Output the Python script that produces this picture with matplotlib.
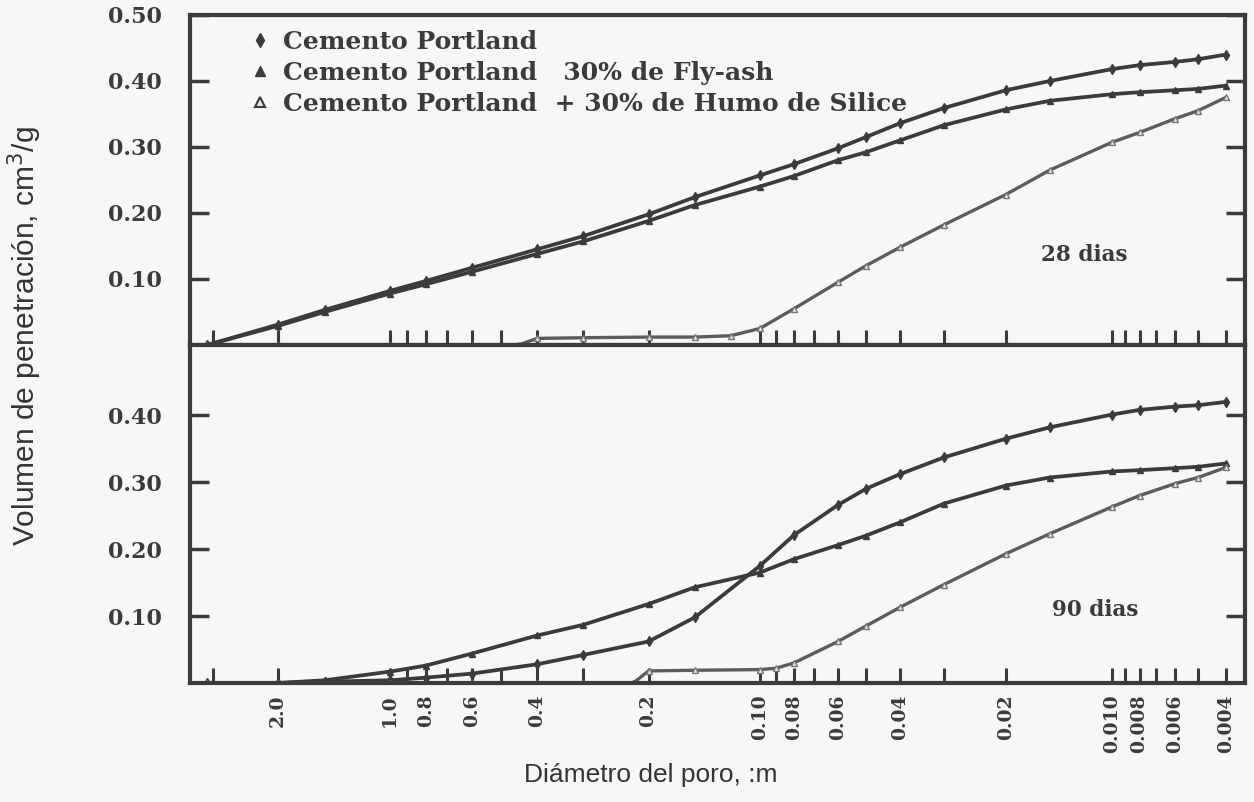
import matplotlib
matplotlib.use("Agg")
import matplotlib.pyplot as plt
from matplotlib.lines import Line2D
from matplotlib.ticker import FixedLocator, FixedFormatter, NullFormatter
import numpy as np

# pore diameter (um) where the curves were sampled
diam = [3.1, 2.0, 1.5, 1.0, 0.8, 0.6, 0.4, 0.3, 0.2, 0.15, 0.1, 0.08, 0.06,
        0.05, 0.04, 0.03, 0.02, 0.015, 0.01, 0.008, 0.006, 0.005, 0.004]

# 28 days
portland_28 = [0.0, 0.031, 0.053, 0.082, 0.097, 0.117, 0.145, 0.165, 0.198, 0.224,
               0.257, 0.274, 0.298, 0.315, 0.336, 0.359, 0.386, 0.400, 0.418,
               0.424, 0.429, 0.433, 0.440]
flyash_28 = [0.0, 0.029, 0.050, 0.078, 0.092, 0.111, 0.138, 0.157, 0.188, 0.212,
             0.240, 0.256, 0.280, 0.292, 0.310, 0.333, 0.357, 0.370, 0.380,
             0.383, 0.386, 0.388, 0.393]
diam_sf = [3.1, 2.0, 1.0, 0.6, 0.45, 0.4, 0.3, 0.2, 0.15, 0.12, 0.1, 0.08, 0.06,
           0.05, 0.04, 0.03, 0.02, 0.015, 0.01, 0.008, 0.006, 0.005, 0.004]
silica_28 = [0.0, 0.0, 0.0, 0.0, 0.0, 0.010, 0.011, 0.012, 0.012, 0.014,
             0.025, 0.055, 0.095, 0.120, 0.148, 0.182, 0.228, 0.265, 0.307,
             0.322, 0.343, 0.355, 0.375]

# 90 days
portland_90 = [0.0, 0.0, 0.002, 0.004, 0.008, 0.014, 0.028, 0.042, 0.062, 0.098,
               0.175, 0.221, 0.266, 0.290, 0.312, 0.337, 0.365, 0.382, 0.401,
               0.408, 0.413, 0.415, 0.420]
flyash_90 = [0.0, 0.0, 0.004, 0.017, 0.026, 0.044, 0.071, 0.087, 0.118, 0.143,
             0.165, 0.185, 0.206, 0.220, 0.240, 0.268, 0.295, 0.307, 0.316,
             0.318, 0.321, 0.323, 0.328]
diam_sf90 = [3.1, 2.0, 1.0, 0.6, 0.4, 0.3, 0.22, 0.2, 0.15, 0.1, 0.09, 0.08, 0.06,
             0.05, 0.04, 0.03, 0.02, 0.015, 0.01, 0.008, 0.006, 0.005, 0.004]
silica_90 = [0.0, 0.0, 0.0, 0.0, 0.0, 0.0, 0.0, 0.018, 0.019, 0.020, 0.022,
             0.030, 0.062, 0.085, 0.113, 0.147, 0.193, 0.223, 0.263, 0.280,
             0.298, 0.307, 0.322]

xtick_vals = [2.0, 1.0, 0.8, 0.6, 0.4, 0.2, 0.1, 0.08, 0.06, 0.04, 0.02,
              0.01, 0.008, 0.006, 0.004]
xtick_text = ["2.0", "1.0", "0.8", "0.6", "0.4", "0.2", "0.10", "0.08", "0.06",
              "0.04", "0.02", "0.010", "0.008", "0.006", "0.004"]
xminor_vals = [3.0, 0.9, 0.7, 0.5, 0.3, 0.09, 0.07, 0.05, 0.03, 0.009, 0.007, 0.005]

legend_text = ["Cemento Portland",
               "Cemento Portland   30% de Fly-ash",
               "Cemento Portland  + 30% de Humo de Silice"]

# the printed diameter axis is only roughly logarithmic: piecewise log scale
knot_d = np.log10([4.0, 2.0, 1.0, 0.1, 0.01, 0.004, 0.003])
knot_p = np.array([166.0, 278.0, 390.0, 760.0, 1112.0, 1226.0, 1262.0])


def fwd(x):
    # increasing with diameter, so the axis is flipped with set_xlim
    x = np.clip(np.asarray(x, dtype=float), 1e-6, None)
    return -np.interp(-np.log10(x), -knot_d, knot_p)


def inv(p):
    return 10.0 ** (-np.interp(-np.asarray(p, dtype=float), knot_p, -knot_d))


INK = "#3b3b3b"
SERIF = ["DejaVu Serif"]
SANS = ["Liberation Sans", "DejaVu Sans"]
BG = "#f7f7f7"

fig = plt.figure(figsize=(12.54, 8.02), dpi=100, facecolor=BG)
gs = fig.add_gridspec(2, 1, left=0.1515, right=0.9928, bottom=0.1484, top=0.9813,
                      hspace=0.0, height_ratios=[330, 338])
ax1 = fig.add_subplot(gs[0])
ax2 = fig.add_subplot(gs[1], sharex=ax1)

panels = [(ax1, portland_28, flyash_28, silica_28, 0.50, "28 dias", 0.848, 0.273),
          (ax2, portland_90, flyash_90, silica_90, 0.505, "90 dias", 0.858, 0.216)]

for ax, p, f, s, ytop, tag, tx, ty in panels:
    ax.set_facecolor(BG)
    ax.set_xscale("function", functions=(fwd, inv))
    ax.plot(diam, p, color=INK, lw=2.7, marker="d", ms=5, mfc=INK, mec=INK)
    ax.plot(diam, f, color=INK, lw=2.7, marker="^", ms=4.5, mfc=INK, mec=INK)
    sx = diam_sf if ax is ax1 else diam_sf90
    ax.plot(sx, s, color="#5c5c5c", lw=2.4, marker="^", ms=4.5, mfc="#e8e8e8",
            mec="#777777", mew=1.0)
    ax.set_ylim(0, ytop)
    yt = [0.1, 0.2, 0.3, 0.4, 0.5] if ax is ax1 else [0.1, 0.2, 0.3, 0.4]
    ax.set_yticks(yt)
    ax.set_yticklabels(["%.2f" % v for v in yt])
    ax.tick_params(axis="y", which="both", direction="in", length=14, width=2.5,
                   left=True, right=True, colors=INK, labelsize=16, pad=20)
    ax.xaxis.set_major_locator(FixedLocator(xtick_vals))
    ax.xaxis.set_minor_locator(FixedLocator(xminor_vals))
    ax.xaxis.set_minor_formatter(NullFormatter())
    ax.tick_params(axis="x", which="both", direction="in", length=11, width=2.2,
                   top=False, bottom=True, colors=INK)
    for sp in ax.spines.values():
        sp.set_linewidth(3)
        sp.set_color(INK)
    for lab in ax.get_yticklabels():
        lab.set_family(SERIF)
        lab.set_fontweight("bold")
    ax.text(tx, ty, tag, transform=ax.transAxes, ha="center", va="center",
            fontsize=15.5, fontweight="bold", family=SERIF, color=INK)

ax1.set_xlim(3.45, 0.00343)
ax1.tick_params(axis="x", labelbottom=False)
ax2.xaxis.set_major_formatter(FixedFormatter(xtick_text))
ax2.tick_params(axis="x", labelbottom=True, labelsize=13.5, pad=8)
for lab in ax2.get_xticklabels():
    lab.set_rotation(90)
    lab.set_family(SERIF)
    lab.set_fontweight("bold")

handles = [Line2D([], [], ls="none", marker="d", ms=7, color=INK),
           Line2D([], [], ls="none", marker="^", ms=7, color=INK),
           Line2D([], [], ls="none", marker="^", ms=7, mfc="#e8e8e8", mec=INK, mew=1.5)]
ax1.legend(handles, legend_text, loc="upper left", bbox_to_anchor=(0.038, 1.015),
           frameon=False, handlelength=0.8, handletextpad=0.5, labelspacing=0.28,
           borderaxespad=0.4,
           prop={"family": SERIF, "weight": "bold", "size": 18})
for t in ax1.get_legend().get_texts():
    t.set_color(INK)

fig.text(0.020, 0.581, "Volumen de penetración, cm$^3$/g", rotation=90,
         ha="center", va="center", fontsize=21.5, family=SANS, color="#333333")
fig.text(0.519, 0.034, "Diámetro del poro, :m", ha="center", va="center",
         fontsize=19, family=SANS, color="#333333")

fig.savefig("out.png", dpi=100, facecolor=BG)
